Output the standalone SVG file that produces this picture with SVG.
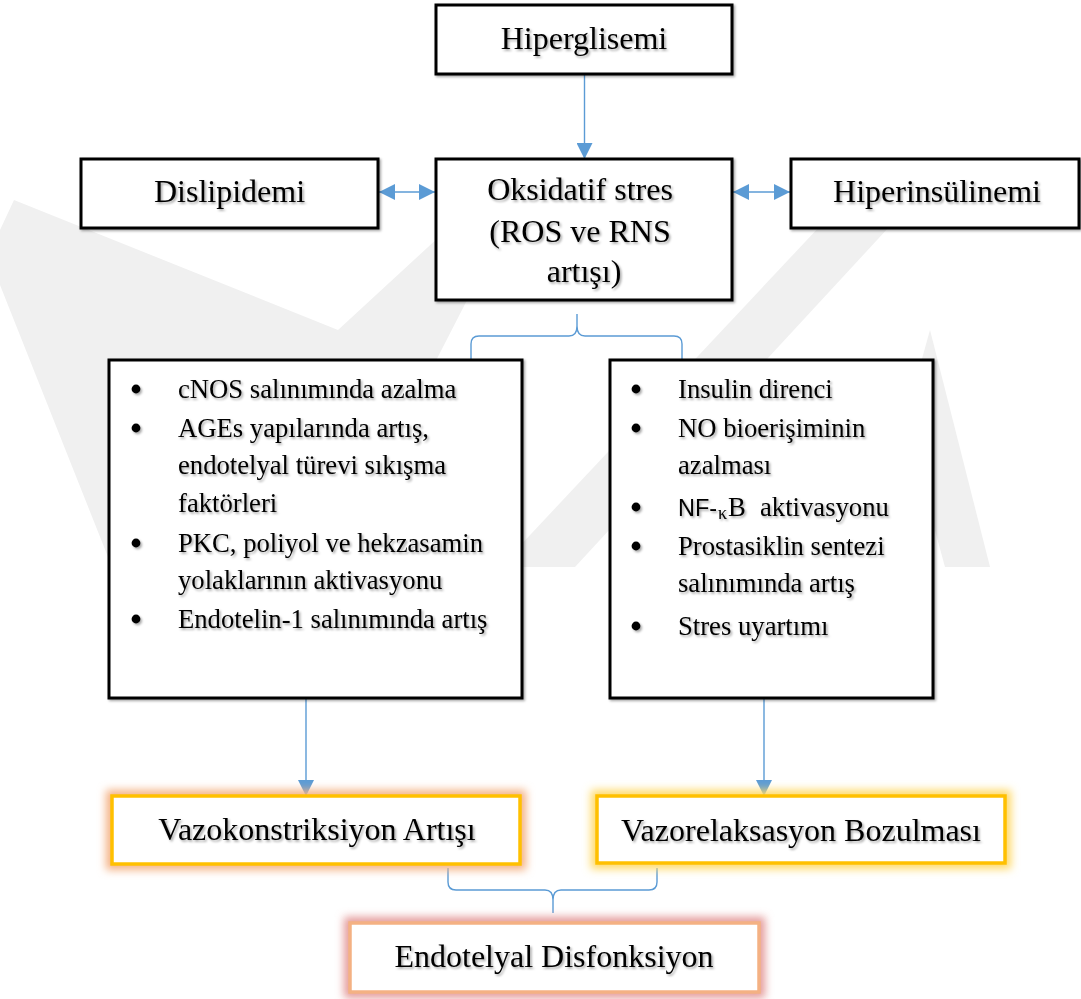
<svg xmlns="http://www.w3.org/2000/svg" width="1081" height="999" viewBox="0 0 1081 999">
  <style>
    .box { fill: #ffffff; stroke: #000000; stroke-width: 3; }
    .title { font-family: "Liberation Serif", "Times New Roman", serif; font-size: 32px; fill: #000000; text-anchor: middle; }
    .item { font-family: "Liberation Serif", "Times New Roman", serif; font-size: 26.67px; fill: #000000; }
    .dot { fill: #000000; }
    .link { fill: none; stroke: #5B9BD5; stroke-width: 1.4; }
    .wm { fill: #f0f0f0; }
  </style>
  <defs>
    <filter id="txtShadow" x="-5%" y="-20%" width="110%" height="150%">
      <feDropShadow dx="1.6" dy="1.8" stdDeviation="1" flood-color="#000000" flood-opacity="0.35"/>
    </filter>
    <filter id="boxShadow" x="-5%" y="-10%" width="110%" height="120%">
      <feDropShadow dx="1.5" dy="1.5" stdDeviation="0.8" flood-color="#000000" flood-opacity="0.35"/>
    </filter>
    <filter id="glow" x="-20%" y="-40%" width="140%" height="180%">
      <feGaussianBlur stdDeviation="4"/>
    </filter>
    <marker id="head" viewBox="0 0 16 16" refX="16" refY="8" markerWidth="16" markerHeight="16" markerUnits="userSpaceOnUse" orient="auto-start-reverse">
      <path d="M0,0 L16,8 L0,16 Z" fill="#5B9BD5"/>
    </marker>
  </defs>

  <!-- faint background emblem -->
  <g id="emblem">
    <polygon class="wm" points="14,200 338,330 440,236 500,236 330,567 112,567 0,285 0,230"/>
    <polygon class="wm" points="500,567 575,567 890,226 820,226"/>
    <polygon class="wm" points="930,330 990,567 945,567 905,420"/>
  </g>

  <!-- connectors -->
  <g id="connectors">
    <line class="link" x1="584.5" y1="75" x2="584.5" y2="159" marker-end="url(#head)"/>
    <line class="link" x1="379" y1="192" x2="435" y2="192" marker-start="url(#head)" marker-end="url(#head)"/>
    <line class="link" x1="733" y1="192" x2="790" y2="192" marker-start="url(#head)" marker-end="url(#head)"/>
    <path class="link" d="M471,359 L471,344 Q471,336 479,336 L569,336 Q577,336 577,326 L577,314 M577,326 Q577,336 585,336 L674,336 Q682,336 682,344 L682,359"/>
    <line class="link" x1="306" y1="699" x2="306" y2="796" marker-end="url(#head)"/>
    <line class="link" x1="764" y1="699" x2="764" y2="796" marker-end="url(#head)"/>
    <path class="link" d="M448,868 L448,882 Q448,890 456,890 L545,890 Q553,890 553,900 L553,913 M553,900 Q553,890 561,890 L649,890 Q657,890 657,882 L657,868"/>
  </g>

  <g id="hiperglisemi">
    <rect class="box" x="436" y="5" width="296" height="69" filter="url(#boxShadow)"/>
    <text class="title" x="584" y="49" filter="url(#txtShadow)">Hiperglisemi</text>
  </g>

  <g id="dislipidemi">
    <rect class="box" x="81" y="159" width="297" height="69" filter="url(#boxShadow)"/>
    <text class="title" x="229.5" y="202" filter="url(#txtShadow)">Dislipidemi</text>
  </g>

  <g id="oksidatif-stres">
    <rect class="box" x="436" y="159" width="296" height="141" filter="url(#boxShadow)"/>
    <text class="title" filter="url(#txtShadow)">
      <tspan x="584" y="200">Oksidatif stres</tspan>
      <tspan x="584" y="242">(ROS ve RNS</tspan>
      <tspan x="584" y="282">artışı)</tspan>
    </text>
  </g>

  <g id="hiperinsulinemi">
    <rect class="box" x="791" y="159" width="288" height="69" filter="url(#boxShadow)"/>
    <text class="title" x="937" y="202" filter="url(#txtShadow)">Hiperinsülinemi</text>
  </g>

  <g id="sol-liste">
    <rect class="box" x="109" y="360" width="413" height="338" filter="url(#boxShadow)"/>
    <g filter="url(#txtShadow)">
      <circle class="dot" cx="136" cy="389" r="4.4"/>
      <text class="item" x="178" y="398">cNOS salınımında azalma</text>
      <circle class="dot" cx="136" cy="428" r="4.4"/>
      <text class="item" x="178" y="437">AGEs yapılarında artış,</text>
      <text class="item" x="178" y="474">endotelyal türevi sıkışma</text>
      <text class="item" x="178" y="512">faktörleri</text>
      <circle class="dot" cx="136" cy="543" r="4.4"/>
      <text class="item" x="178" y="552">PKC, poliyol ve hekzasamin</text>
      <text class="item" x="178" y="589">yolaklarının aktivasyonu</text>
      <circle class="dot" cx="136" cy="619" r="4.4"/>
      <text class="item" x="178" y="628">Endotelin-1 salınımında artış</text>
    </g>
  </g>

  <g id="sag-liste">
    <rect class="box" x="610" y="360" width="323" height="338" filter="url(#boxShadow)"/>
    <g filter="url(#txtShadow)">
      <circle class="dot" cx="636" cy="389" r="4.4"/>
      <text class="item" x="678" y="398">Insulin direnci</text>
      <circle class="dot" cx="636" cy="428" r="4.4"/>
      <text class="item" x="678" y="437">NO bioerişiminin</text>
      <text class="item" x="678" y="474">azalması</text>
      <circle class="dot" cx="636" cy="507" r="4.4"/>
      <text class="item" y="516"><tspan x="678" font-family="'Liberation Sans', Arial, sans-serif" font-size="23.5px">NF-</tspan><tspan x="718" dy="3" font-size="18px">κ</tspan><tspan x="728" dy="-3">B</tspan><tspan x="760">aktivasyonu</tspan></text>
      <circle class="dot" cx="636" cy="546" r="4.4"/>
      <text class="item" x="678" y="555">Prostasiklin sentezi</text>
      <text class="item" x="678" y="592">salınımında artış</text>
      <circle class="dot" cx="636" cy="626" r="4.4"/>
      <text class="item" x="678" y="635">Stres uyartımı</text>
    </g>
  </g>

  <g id="vazokonstriksiyon">
    <rect x="112" y="796" width="408" height="68" fill="none" stroke="#F4B183" stroke-width="12" filter="url(#glow)"/>
    <rect x="112" y="796" width="408" height="68" fill="#ffffff" stroke="#FFC000" stroke-width="3.5"/>
    <text class="title" x="317" y="840" filter="url(#txtShadow)">Vazokonstriksiyon Artışı</text>
  </g>

  <g id="vazorelaksasyon">
    <rect x="597" y="796" width="408" height="67" fill="none" stroke="#FFD966" stroke-width="12" filter="url(#glow)"/>
    <rect x="597" y="796" width="408" height="67" fill="#ffffff" stroke="#FFC000" stroke-width="3.5"/>
    <text class="title" x="801" y="841" filter="url(#txtShadow)">Vazorelaksasyon Bozulması</text>
  </g>

  <g id="endotelyal-disfonksiyon">
    <rect x="350" y="923" width="409" height="69" fill="none" stroke="#E49A9A" stroke-width="12" filter="url(#glow)"/>
    <rect x="350" y="923" width="409" height="69" fill="#ffffff" stroke="#F4B183" stroke-width="3.5"/>
    <text class="title" x="554" y="967" filter="url(#txtShadow)">Endotelyal Disfonksiyon</text>
  </g>
</svg>
